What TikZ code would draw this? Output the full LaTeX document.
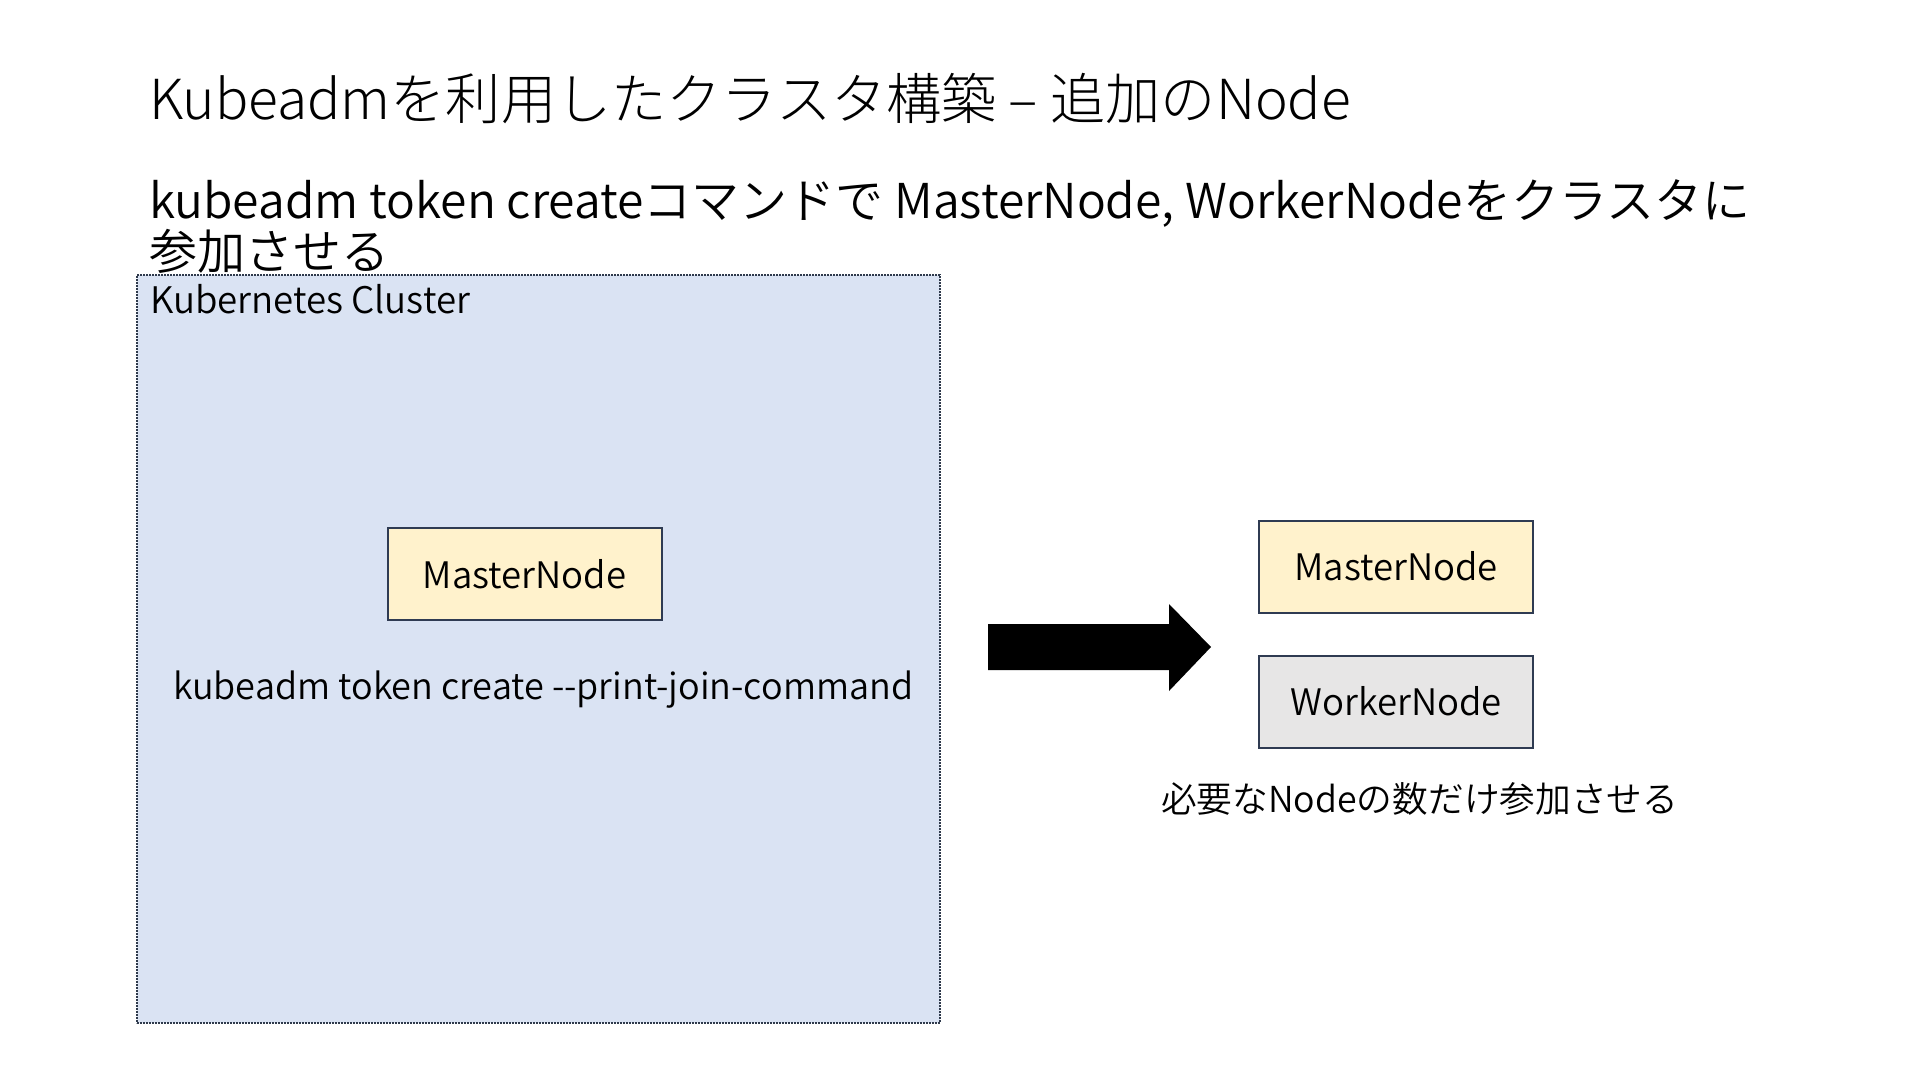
\documentclass[tikz,border=0pt]{standalone}
\usepackage{fontspec}
\setmainfont{Noto Sans CJK JP}
\newfontfamily\jp{Noto Sans CJK JP DemiLight}
\newfontfamily\jplight{Noto Sans CJK JP Light}
\definecolor{clusterfill}{HTML}{DAE3F3}
\definecolor{masterfill}{HTML}{FFF2CC}
\definecolor{workerfill}{HTML}{E7E6E6}
\definecolor{boxline}{HTML}{2F3B52}
\definecolor{dotline}{HTML}{2F3A4C}
\tikzset{
  nodebox/.style={draw=boxline, line width=2pt, minimum width=274pt, minimum height=92pt,
    inner sep=0pt, font=\jp\fontsize{36.5}{44}\selectfont, text=black},
  txt/.style={inner sep=0pt, text=black},
}
\begin{document}
\begin{tikzpicture}[x=1pt,y=-1pt]
\useasboundingbox[fill=white] (0,0) rectangle (1920,1080);
% title
\node[txt, anchor=base west, font=\jplight\fontsize{55.2}{64}\selectfont] (title) at (149,119)
  {Kubeadmを利用したクラスタ構築 – 追加のNode};
% subtitle
\node[txt, anchor=base west, font=\jp\fontsize{48}{51}\selectfont] (sub1) at (149,218)
  {kubeadm token createコマンドで MasterNode, WorkerNodeをクラスタに};
\node[txt, anchor=base west, font=\jp\fontsize{48}{51}\selectfont] (sub2) at (149,269)
  {参加させる};
% cluster
\node[draw=dotline, fill=clusterfill, line width=2pt, dash pattern=on 1.6pt off 1.4pt,
  minimum width=803pt, minimum height=748pt, inner sep=0pt, anchor=north west] (cluster) at (136,274) {};
\node[txt, anchor=base west, font=\jp\fontsize{36.6}{44}\selectfont] (clabel) at (150,313) {Kubernetes Cluster};
\node[nodebox, fill=masterfill] (m1) at (524.5,574) {MasterNode};
\node[txt, anchor=base west, font=\jp\fontsize{36}{44}\selectfont] (cmd) at (173,699) {kubeadm token create --print-join-command};
% arrow
\fill[black] (988,624) -- (1169,624) -- (1169,604) -- (1211,647) -- (1169,691) -- (1169,670) -- (988,670) -- cycle;
% right nodes
\node[nodebox, fill=masterfill] (m2) at (1396,566.5) {MasterNode};
\node[nodebox, fill=workerfill] (w) at (1396,701.5) {WorkerNode};
\node[txt, anchor=base west, font=\jp\fontsize{35.7}{40}\selectfont] (cap) at (1161,812) {必要なNodeの数だけ参加させる};
\end{tikzpicture}
\end{document}
